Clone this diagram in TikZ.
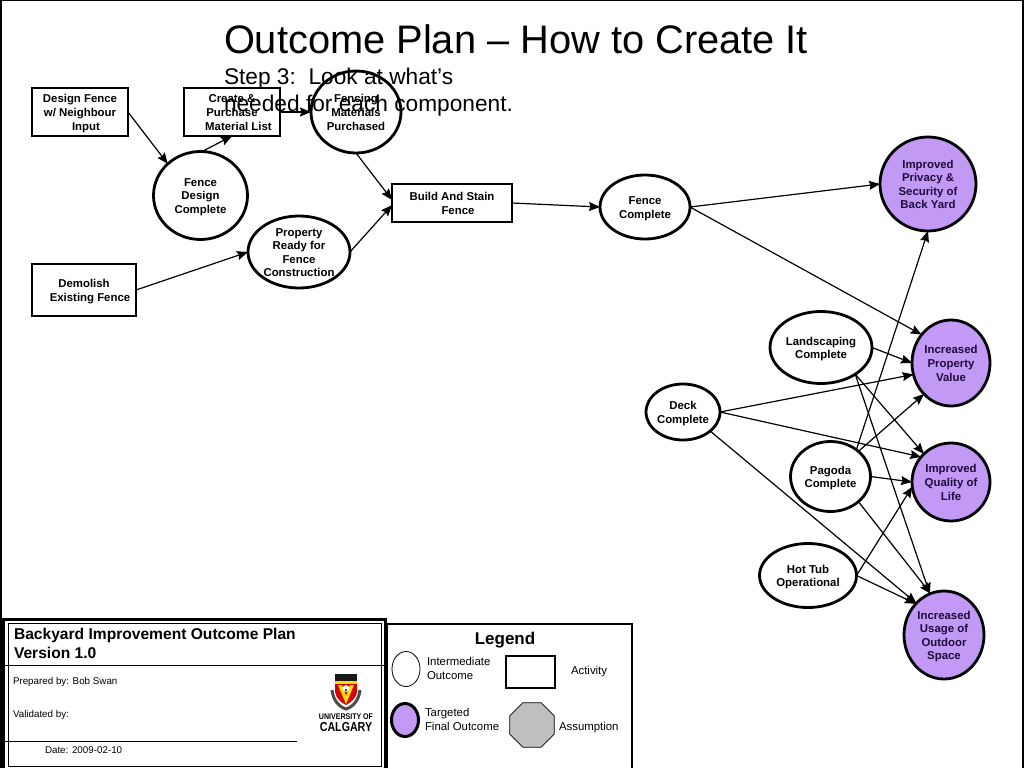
\documentclass[tikz,border=0pt]{standalone}
\usepackage{fontspec}
\setmainfont{Liberation Sans}
\usetikzlibrary{shapes.geometric,arrows.meta}
\definecolor{finalpurple}{HTML}{C299F5}
\definecolor{finalink}{HTML}{1E0A3C}
\newcommand{\tx}[1]{\smash{\makebox[0pt]{\raisebox{-4.5pt}{\begin{tabular}{@{}c@{}}#1\end{tabular}}}}}
\tikzset{
  every node/.style={inner sep=0pt,outer sep=0pt},
  boxtext/.style={font=\fontsize{11.4}{13.6}\selectfont\bfseries},
  actbox/.style={draw,rectangle,line width=2.2pt,fill=white,boxtext},
  midout/.style={draw,ellipse,line width=2.8pt,fill=white,boxtext},
  finalout/.style={draw,ellipse,line width=2.8pt,fill=finalpurple,text=finalink,boxtext},
  conn/.style={line width=1.2pt,-{Stealth[length=11pt,width=9pt,inset=1.5pt]}},
  plain/.style={anchor=base west,font=\fontsize{11.4}{13.6}\selectfont},
  small/.style={anchor=base west,font=\fontsize{9.8}{12}\selectfont}
}
\begin{document}
\begin{tikzpicture}[x=1pt,y=-1pt]
\useasboundingbox (0,0) rectangle (1024,768);
\fill[white] (0,0) rectangle (1024,768);
\draw[line width=1.5pt] (1,768) -- (1,0.5) -- (1023,0.5) -- (1023,768);

% activities
\node[actbox,minimum width=96pt,minimum height=48pt] (design) at (80,112) {\tx{Design Fence\\w/ Neighbour\\\hspace*{12pt}Input}};
\node[actbox,minimum width=96pt,minimum height=48pt] (create) at (232,112) {\tx{Create \&\\Purchase\\\hspace*{13pt}Material List}};
\node[actbox,minimum width=104pt,minimum height=52pt] (demolish) at (84,290) {\tx{Demolish\\\hspace*{12pt}Existing Fence}};
\node[actbox,minimum width=120pt,minimum height=38pt] (build) at (452,203) {\tx{Build And Stain\\\hspace*{12pt}Fence}};

% intermediate outcomes
\node[midout,minimum width=90pt,minimum height=82pt] (fencing) at (356,112) {\tx{Fencing\\Materials\\Purchased}};
\node[midout,minimum width=94pt,minimum height=88pt] (fdc) at (200.5,195.5) {\tx{Fence\\Design\\Complete}};
\node[midout,minimum width=102pt,minimum height=72pt] (prop) at (299,252) {\tx{Property\\Ready for\\Fence\\Construction}};
\node[midout,minimum width=90pt,minimum height=64pt] (fc) at (645,207) {\tx{Fence\\Complete}};
\node[midout,minimum width=102pt,minimum height=72pt] (land) at (821,347.5) {\tx{Landscaping\\Complete}};
\node[midout,minimum width=74pt,minimum height=56pt] (deck) at (683,412) {\tx{Deck\\Complete}};
\node[midout,minimum width=80pt,minimum height=70pt] (pagoda) at (830.5,476.5) {\tx{Pagoda\\Complete}};
\node[midout,minimum width=97pt,minimum height=64pt] (hottub) at (808,575.5) {\tx{Hot Tub\\Operational}};

% final outcomes
\node[finalout,minimum width=96pt,minimum height=94pt] (privacy) at (928,184) {\tx{Improved\\Privacy \&\\Security of\\Back Yard}};
\node[finalout,minimum width=78pt,minimum height=86pt] (value) at (951,363) {\tx{Increased\\Property\\Value}};
\node[finalout,minimum width=78pt,minimum height=78pt] (qol) at (951,482) {\tx{Improved\\Quality of\\Life}};
\node[finalout,minimum width=80pt,minimum height=88pt] (usage) at (944,635) {\tx{Increased\\Usage of\\Outdoor\\Space}};

% connectors
\draw[conn] (design.east) -- (fdc.136);
\draw[conn] (fdc.88) -- (create.south);
\draw[conn] (create.east) -- (fencing.west);
\draw[conn] (fencing.south) -- (build.177);
\draw[conn] (prop.east) -- (build.182);
\draw[conn] (demolish.east) -- (prop.west);
\draw[conn] (build.east) -- (fc.west);
\draw[conn] (fc.east) -- (privacy.west);
\draw[conn] (fc.east) -- (value.136);
\draw[conn] (land.east) -- (value.west);
\draw[conn] (land.-38) -- (qol.134);
\draw[conn] (land.-38) -- (usage.109);
\draw[conn] (deck.east) -- (value.197);
\draw[conn] (deck.east) -- (qol.140);
\draw[conn] (deck.-35.5) -- (usage.131);
\draw[conn] (pagoda.46) -- (privacy.south);
\draw[conn] (pagoda.42) -- (value.229);
\draw[conn] (pagoda.east) -- (qol.west);
\draw[conn] (pagoda.-42) -- (usage.108);
\draw[conn] (hottub.east) -- (qol.187);
\draw[conn] (hottub.east) -- (usage.132);

% title
\node[anchor=base west,font=\fontsize{39.8}{44}\selectfont] (title) at (224,53) {Outcome Plan – How to Create It};
\node[anchor=base west,font=\fontsize{22.7}{27}\selectfont] (step1) at (224,84.5) {Step 3:\ \ Look at what’s};
\node[anchor=base west,font=\fontsize{22.7}{27}\selectfont] (step2) at (224,111.5) {needed for each component.};

% title block
\draw[line width=3pt] (3,768) -- (3,619) -- (385,619) -- (385,768);
\draw[line width=1pt] (8,766) rectangle (381,623.5);
\draw[line width=0.8pt] (5,665) -- (385,665);
\draw[line width=0.8pt] (5,741.5) -- (297,741.5);
\node[anchor=base west,font=\fontsize{15.6}{18}\selectfont\bfseries] (bt1) at (14,639) {Backyard Improvement Outcome Plan};
\node[anchor=base west,font=\fontsize{15.6}{18}\selectfont\bfseries] (bt2) at (14,658) {Version 1.0};
\node[small] (prep) at (13,684.5) {Prepared by: Bob Swan};
\node[small] (valid) at (13,717.5) {Validated by:};
\node[small] (date) at (45,753.5) {Date: 2009-02-10};

% logo
\draw[black!70,line width=3pt] (332,690) .. controls (333,700) and (339,707) .. (346,709) .. controls (353,707) and (359,700) .. (360,690);
\fill[black!90] (335,674) rectangle (357,684);
\fill[yellow!80!orange] (335,681) rectangle (357,684);
\fill[red!85!black] (335,684) -- (357,684) -- (357,692) .. controls (356,699) and (350,703) .. (346,705) .. controls (342,703) and (336,699) .. (335,692) -- cycle;
\fill[yellow!85!orange] (338,685) -- (342,685) -- (346,696) -- (350,685) -- (354,685) -- (346,704) -- cycle;
\fill[white] (346,688.5) circle (3.4pt);
\fill[black] (346,690) circle (1.2pt);
\node[font=\fontsize{8.2}{9}\selectfont\bfseries] (uni) at (346,717) {\scalebox{0.86}[1]{UNIVERSITY OF}};
\node[font=\fontsize{13}{12}\selectfont\bfseries] (cal) at (346,727) {\scalebox{0.82}[1]{CALGARY}};

% legend
\draw[line width=1.5pt] (387,768) -- (387,624) -- (632,624) -- (632,768);
\node[font=\fontsize{17}{18}\selectfont\bfseries] (legend) at (505,640) {Legend};
\node[draw,ellipse,line width=0.8pt,fill=white,minimum width=28pt,minimum height=35pt] (lgmid) at (406,669) {};
\node[plain] (lgmidt1) at (427,665) {Intermediate};
\node[plain] (lgmidt2) at (427,679) {Outcome};
\node[draw,rectangle,line width=2pt,fill=white,minimum width=49pt,minimum height=32pt] (lgact) at (530.5,672) {};
\node[plain] (lgactt) at (571,674) {Activity};
\node[draw,ellipse,line width=3pt,fill=finalpurple,minimum width=27pt,minimum height=33pt] (lgfin) at (405,720) {};
\node[plain] (lgfint1) at (425,716) {Targeted};
\node[plain] (lgfint2) at (425,730) {Final Outcome};
\node[draw,regular polygon,regular polygon sides=8,line width=0.8pt,fill=black!25,minimum size=48pt] (lgass) at (532,725) {};
\node[plain] (lgasst) at (559,730) {Assumption};
\end{tikzpicture}
\end{document}
